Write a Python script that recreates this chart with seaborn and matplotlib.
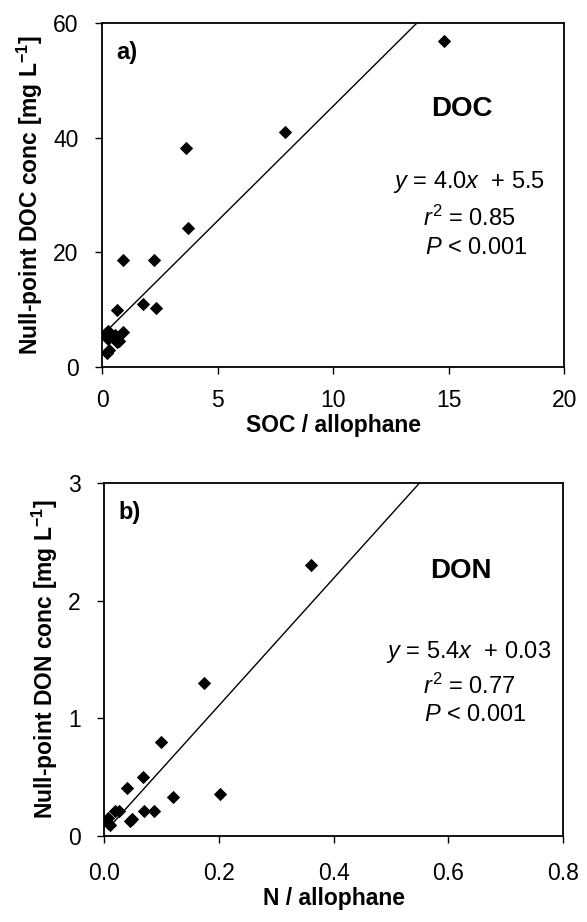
import matplotlib
matplotlib.use("Agg")
import matplotlib.pyplot as plt
import seaborn as sns
import numpy as np
import pandas as pd

# ---- data ----
soc_allophane = [0.15, 0.2, 0.25, 0.3, 0.2, 0.25, 0.55, 0.65, 0.75, 0.9, 0.65,
                 1.75, 2.35, 0.9, 2.25, 3.7, 3.65, 7.9, 14.8]
doc_conc = [5.9, 5.2, 4.8, 3.0, 2.5, 6.2, 5.6, 4.4, 4.6, 6.1, 10.0,
            10.9, 10.3, 18.6, 18.6, 24.3, 38.2, 41.0, 56.8]
doc_fit = (4.0, 5.5)  # slope, intercept

n_allophane = [0.006, 0.006, 0.009, 0.018, 0.025, 0.040, 0.044, 0.048, 0.067,
               0.069, 0.086, 0.0985, 0.119, 0.174, 0.201, 0.36]
don_conc = [0.15, 0.11, 0.09, 0.21, 0.21, 0.41, 0.13, 0.14, 0.50,
            0.21, 0.21, 0.80, 0.33, 1.30, 0.36, 2.30]
don_fit = (5.4, 0.03)

panel_a_ticks_x = [0, 5, 10, 15, 20]
panel_a_ticks_y = [0, 20, 40, 60]
panel_b_ticks_x = [0.0, 0.2, 0.4, 0.6, 0.8]
panel_b_ticks_y = [0, 1, 2, 3]

sns.set_theme(style="white")
plt.rcParams['font.family'] = ['Liberation Sans', 'DejaVu Sans']
plt.rcParams['mathtext.fontset'] = 'custom'
plt.rcParams['mathtext.rm'] = 'Liberation Sans'
plt.rcParams['mathtext.it'] = 'Liberation Sans:italic'
plt.rcParams['mathtext.bf'] = 'Liberation Sans:bold'
for k in ['text.color', 'axes.labelcolor', 'xtick.color', 'ytick.color', 'axes.edgecolor']:
    plt.rcParams[k] = 'black'

fig = plt.figure(figsize=(5.87, 9.22), dpi=100)
ax_a = fig.add_axes([0.174, 0.602, 0.787, 0.373])
ax_b = fig.add_axes([0.178, 0.0933, 0.781, 0.383])

TICK_FS = 16.5
LABEL_FS = 16.5
TEXT_FS = 17


def panel(ax, x, y, fit, xlim, ylim, xticks, yticks, xfmt, xlabel, ylabel,
          tag, name, lines, line_y, xpad):
    df = pd.DataFrame({"x": x, "y": y})
    sns.scatterplot(data=df, x="x", y="y", ax=ax, marker="D", color="black",
                    s=46, linewidth=0, zorder=3)
    m, b = fit
    x0 = min(x)
    x1 = min(xlim[1], (ylim[1] - b) / m)
    fit_df = pd.DataFrame({"x": [x0, x1], "y": [m * x0 + b, m * x1 + b]})
    sns.lineplot(data=fit_df, x="x", y="y", ax=ax, color="black", linewidth=1.0)
    ax.set_xlim(*xlim)
    ax.set_ylim(*ylim)
    ax.set_xticks(xticks)
    ax.set_yticks(yticks)
    ax.set_xticklabels([xfmt.format(v) for v in xticks], fontsize=TICK_FS)
    ax.set_yticklabels([str(v) for v in yticks], fontsize=TICK_FS)
    ax.tick_params(axis="both", direction="out", length=5, width=1,
                   color="black", labelcolor="black", bottom=True, left=True)
    ax.tick_params(axis="x", pad=xpad)
    ax.tick_params(axis="y", pad=12)
    for sp in ax.spines.values():
        sp.set_visible(True)
        sp.set_color("black")
        sp.set_linewidth(1.3)
    ax.set_xlabel(xlabel, fontsize=LABEL_FS, fontweight="bold", labelpad=1)
    ax.set_ylabel(ylabel, fontsize=LABEL_FS, fontweight="bold", labelpad=6)
    ax.text(0.03, 0.915, tag, transform=ax.transAxes, fontsize=17,
            fontweight="bold", va="center", ha="left")
    ax.text(0.778, 0.75, name, transform=ax.transAxes, fontsize=20,
            fontweight="bold", va="center", ha="center")
    for txt, yy, xx in zip(lines, line_y, [0.795, 0.795, 0.81]):
        ax.text(xx, yy, txt, transform=ax.transAxes, fontsize=TEXT_FS,
                va="center", ha="center")


panel(ax_a, soc_allophane, doc_conc, doc_fit, (0, 20), (0, 60),
      panel_a_ticks_x, panel_a_ticks_y, "{:g}",
      "SOC / allophane",
      r"Null-point DOC conc [mg L$^{\mathbf{-1}}$]",
      "a)", "DOC",
      [r"$y$ = 4.0$x$  + 5.5", r"$r^{\mathrm{2}}$ = 0.85", r"$P$ < 0.001"],
      [0.538, 0.432, 0.345], 11)

panel(ax_b, n_allophane, don_conc, don_fit, (0, 0.8), (0, 3),
      panel_b_ticks_x, panel_b_ticks_y, "{:.1f}",
      "N / allophane",
      r"Null-point DON conc [mg L$^{\mathbf{-1}}$]",
      "b)", "DON",
      [r"$y$ = 5.4$x$  + 0.03", r"$r^{\mathrm{2}}$ = 0.77", r"$P$ < 0.001"],
      [0.522, 0.423, 0.342], 14)

fig.savefig("out.png", dpi=100)
